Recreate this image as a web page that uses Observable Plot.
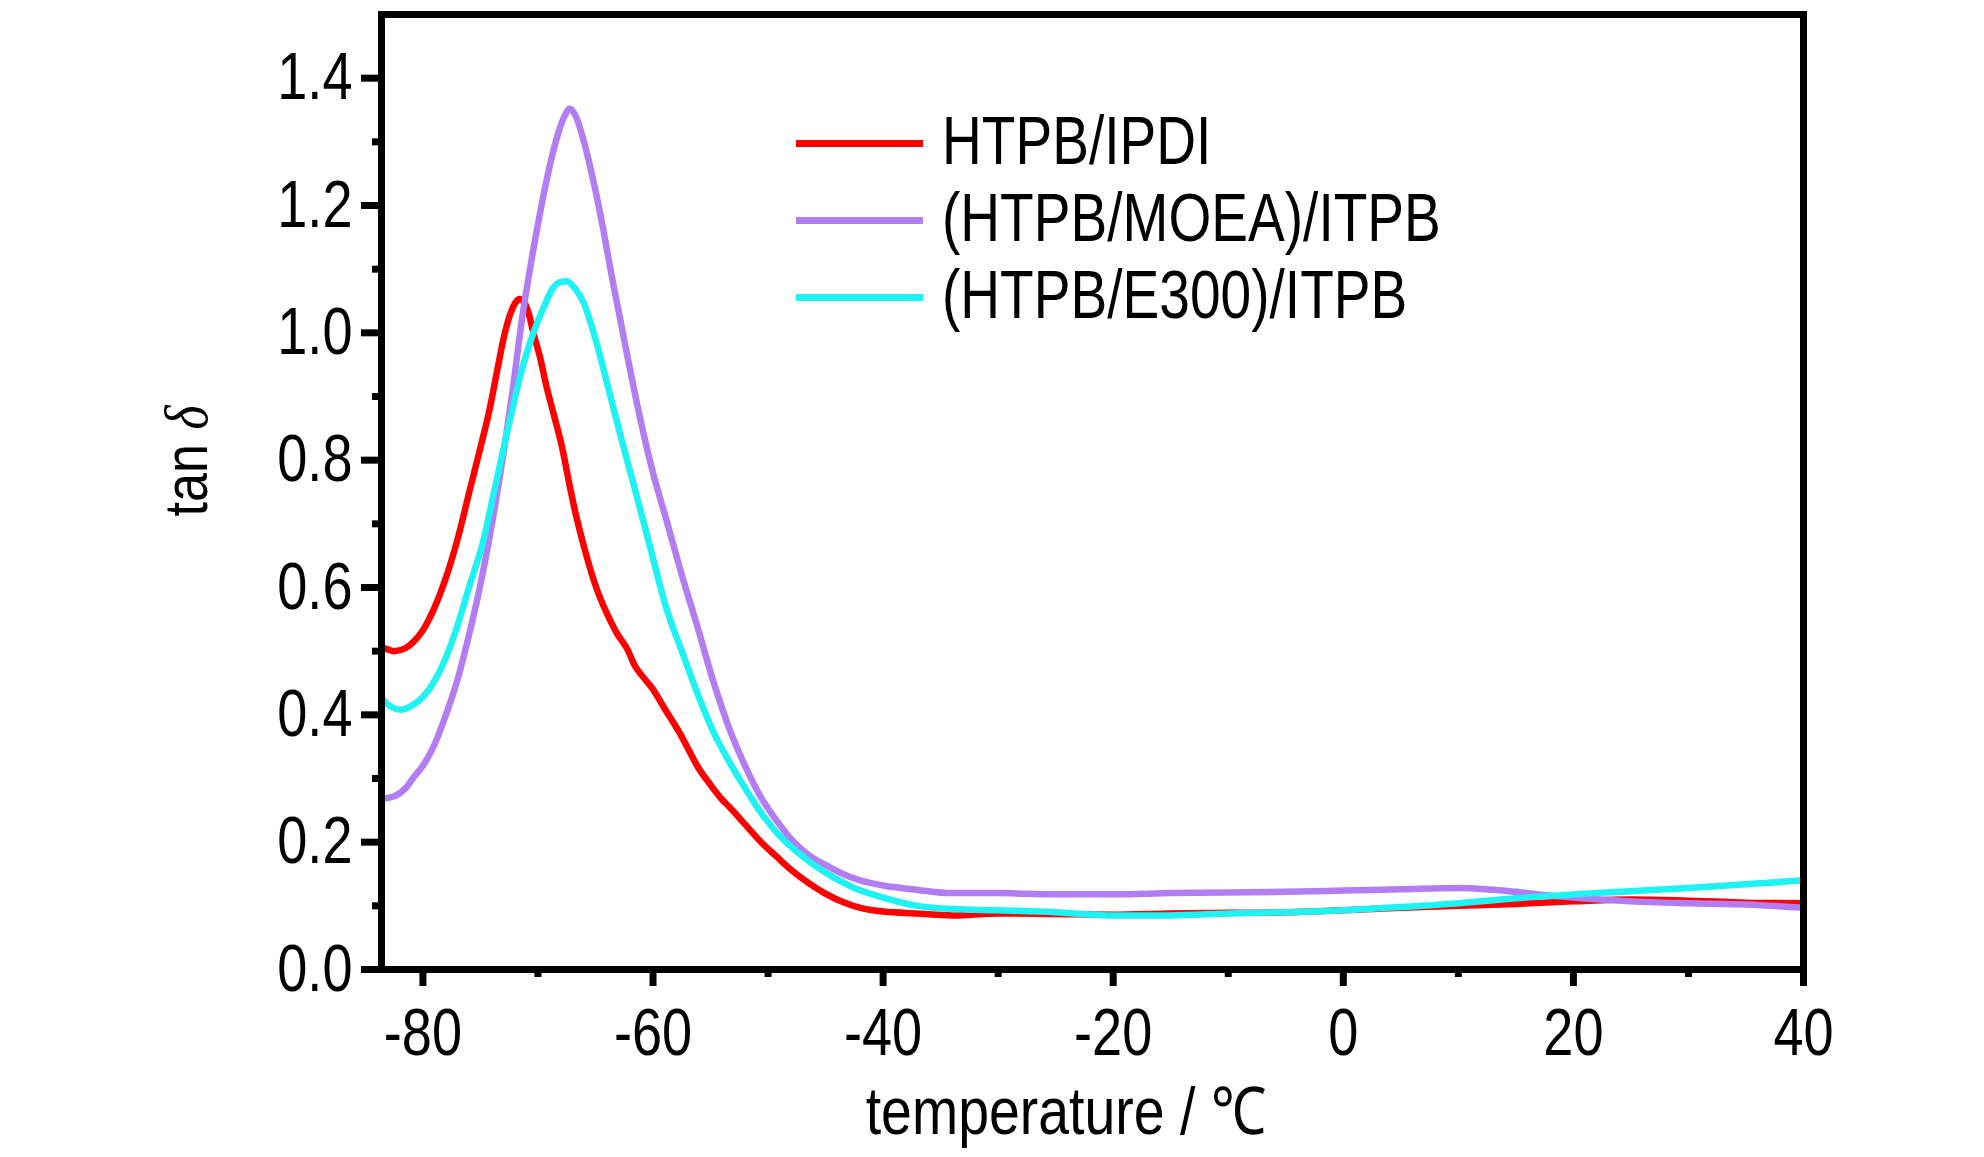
<!DOCTYPE html>
<html>
<head>
<meta charset="utf-8">
<script src="https://cdn.jsdelivr.net/npm/d3@7"></script>
<script src="https://cdn.jsdelivr.net/npm/@observablehq/plot@0.6"></script>
<style>
  html, body { margin: 0; padding: 0; background: #fff; }
  #wrap { position: relative; width: 1984px; height: 1157px; overflow: hidden;
          font-family: "Liberation Sans", Arial, sans-serif; }
  #chart svg { display: block; }
  .legend { position: absolute; left: 796px; top: 97px; }
  .row { position: absolute; left: 0; height: 80px; white-space: nowrap; }
  .sw { position: absolute; left: 0; width: 127px; height: 7px; }
  .lt { position: absolute; left: 146px; font-size: 68px; line-height: 1; color: #000;
        transform: scaleX(0.81); transform-origin: 0 50%; }
  .ytitle { position: absolute; left: 186px; top: 461px; font-size: 62px; color:#000;
            transform: translate(-50%, -50%) rotate(-90deg) scaleX(0.84); white-space: nowrap; }
  .xtitle { position: absolute; left: 1066px; top: 1078px; font-size: 66px; color:#000;
            transform: translateX(-50%) scaleX(0.84); white-space: nowrap; line-height: 1; }
</style>
</head>
<body>
<div id="wrap">
  <div id="chart"></div>
</div>
<script>
// ---- data ----
const seriesNames = ["HTPB/IPDI", "(HTPB/MOEA)/ITPB", "(HTPB/E300)/ITPB"];
const seriesColors = ["#ff0000", "#b27df2", "#1ff2f2"];

const tempIPDI = [-83.6,-82.5,-81.5,-80.8,-80,-79,-78.1,-77,-75.9,-75,-74.2,-73.5,-72.9,-72.4,-72,-71.6,-71.2,-70.8,-70.4,-69.8,-69.3,-68.6,-67.9,-67.3,-66.8,-66,-64.9,-63.9,-63.2,-62.2,-61.6,-60.8,-60,-59,-57.7,-56.9,-56.1,-55,-54,-53.4,-52,-50.6,-49.3,-47.9,-46.5,-45.1,-43.5,-41.8,-40,-37,-34,-30,-25,-20,-15,-10,-5,0,5,10,15,20,25,30,35,40];
const tanIPDI  = [0.507,0.500,0.505,0.515,0.533,0.568,0.610,0.675,0.755,0.820,0.880,0.945,0.998,1.030,1.046,1.053,1.048,1.030,1.000,0.960,0.919,0.870,0.820,0.765,0.722,0.664,0.598,0.555,0.530,0.502,0.478,0.458,0.440,0.410,0.372,0.345,0.318,0.290,0.267,0.256,0.228,0.200,0.178,0.155,0.136,0.120,0.106,0.096,0.091,0.088,0.085,0.088,0.087,0.086,0.088,0.089,0.090,0.093,0.097,0.100,0.103,0.107,0.110,0.108,0.105,0.104];

const tempMOEA = [-83.6,-82.5,-81.5,-80.8,-80,-79,-78.1,-77,-76,-75,-74,-73,-72.2,-71.4,-70.6,-69.8,-69,-68.3,-67.7,-67.25,-66.7,-66,-65.2,-64.3,-63.6,-63,-62.3,-61.6,-60.8,-60,-58.9,-57.5,-56.1,-54.8,-53.4,-52,-50.6,-49.3,-48,-46.5,-45.1,-43.5,-42,-40,-37,-34,-30,-25,-20,-15,-10,-5,0,5,10,15,17,20,25,30,35,40];
const tanMOEA  = [0.268,0.272,0.285,0.302,0.320,0.353,0.395,0.455,0.525,0.605,0.700,0.810,0.910,1.020,1.110,1.190,1.260,1.310,1.340,1.352,1.340,1.300,1.240,1.160,1.090,1.035,0.970,0.907,0.840,0.780,0.710,0.620,0.536,0.455,0.380,0.320,0.270,0.235,0.205,0.180,0.165,0.150,0.140,0.132,0.125,0.120,0.120,0.118,0.118,0.120,0.121,0.122,0.124,0.126,0.128,0.122,0.118,0.113,0.107,0.104,0.102,0.097];

const tempE300 = [-83.6,-82.8,-81.9,-81,-80,-79.2,-78,-77,-76,-74.8,-73.7,-72.6,-71.5,-70.4,-69.5,-68.7,-68,-67.5,-66.8,-66,-65,-63.8,-62.7,-61.6,-60.2,-58.9,-57.5,-56.1,-54.8,-53.4,-52,-50.6,-49,-47.5,-45.1,-42.5,-40,-37,-34,-30,-25,-20,-15,-10,-5,0,5,10,15,20,25,30,35,40];
const tanE300  = [0.426,0.413,0.408,0.414,0.428,0.447,0.490,0.540,0.600,0.670,0.760,0.850,0.935,1.000,1.040,1.070,1.080,1.081,1.070,1.046,0.990,0.907,0.830,0.756,0.660,0.571,0.500,0.432,0.375,0.327,0.285,0.246,0.210,0.185,0.153,0.128,0.113,0.100,0.095,0.093,0.090,0.085,0.085,0.088,0.090,0.093,0.098,0.104,0.112,0.118,0.123,0.128,0.134,0.140];

const xMajorTicks = [-80, -60, -40, -20, 0, 20, 40];
const xMinorTicks = [-70, -50, -30, -10, 10, 30];
const yMajorTicks = [0.0, 0.2, 0.4, 0.6, 0.8, 1.0, 1.2, 1.4];
const yMinorTicks = [0.1, 0.3, 0.5, 0.7, 0.9, 1.1, 1.3];

// ---- build table ----
const temps = [tempIPDI, tempMOEA, tempE300];
const vals = [tanIPDI, tanMOEA, tanE300];
const rows = [];
seriesNames.forEach((s, i) => temps[i].forEach((t, j) => rows.push({series: s, t, v: vals[i][j]})));

const font = '"Liberation Sans", Arial, sans-serif';

const plot = Plot.plot({
  width: 1984,
  height: 1157,
  marginLeft: 381,
  marginRight: 181,
  marginTop: 14,
  marginBottom: 188,
  style: {fontFamily: font, color: "#000", background: "#fff", overflow: "visible"},
  x: {domain: [-83.6, 40]},
  y: {domain: [0, 1.5]},
  color: {domain: seriesNames, range: seriesColors},
  marks: [
    Plot.line(rows, {x: "t", y: "v", z: "series", stroke: "series", strokeWidth: 6.5, curve: "monotone-x", strokeLinejoin: "round", strokeLinecap: "round"}),
    Plot.axisX({ticks: xMinorTicks, tickSize: 8, strokeWidth: 7, tickFormat: () => "", label: null}),
    Plot.axisX({ticks: xMajorTicks, tickSize: 17, strokeWidth: 7, tickPadding: 22, fontSize: 66, tickFormat: d => String(d), label: null}),
    Plot.axisY({ticks: yMinorTicks, tickSize: 9, strokeWidth: 7, tickFormat: () => "", label: null}),
    Plot.axisY({ticks: yMajorTicks, tickSize: 20, strokeWidth: 7, tickPadding: 9, fontSize: 66, tickFormat: d3.format(".1f"), label: null}),
    Plot.frame({stroke: "#000", strokeWidth: 7})
  ]
});
// condense tick label glyphs (the reference uses a narrow face)
plot.querySelectorAll("text").forEach(t => {
  const tr = t.getAttribute("transform") || "";
  t.setAttribute("transform", tr + " scale(0.82,1)");
});
document.getElementById("chart").appendChild(plot);

// ---- legend & titles (HTML overlays) ----
const wrap = document.getElementById("wrap");
const legend = document.createElement("div");
legend.className = "legend";
seriesNames.forEach((s, i) => {
  const r = document.createElement("div");
  r.className = "row";
  r.style.top = (i * 77) + "px";
  r.innerHTML = `<div class="sw" style="top:43px;background:${seriesColors[i]}"></div><div class="lt" style="top:9px">${s}</div>`;
  legend.appendChild(r);
});
wrap.appendChild(legend);

const yt = document.createElement("div");
yt.className = "ytitle";
yt.innerHTML = 'tan <i style="font-family:\'Liberation Serif\',serif">δ</i>';
wrap.appendChild(yt);

const xt = document.createElement("div");
xt.className = "xtitle";
xt.textContent = "temperature / ℃";
wrap.appendChild(xt);
</script>
</body>
</html>
